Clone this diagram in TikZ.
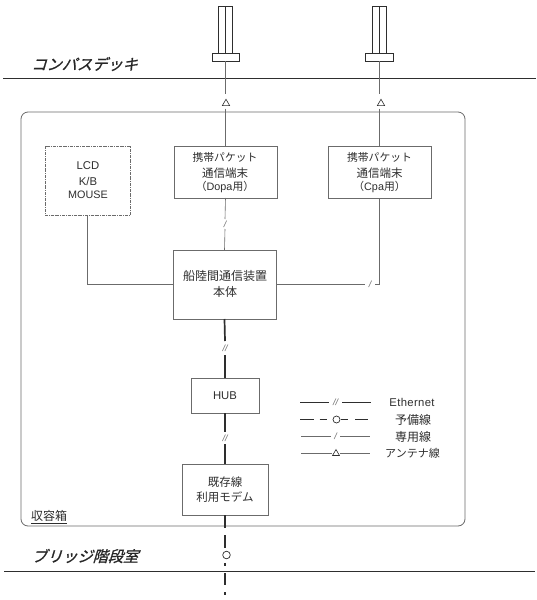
\documentclass[tikz,border=0pt]{standalone}
\usepackage{fontspec}
\usetikzlibrary{shapes.geometric}
\setmainfont{Liberation Sans}
\newfontfamily\jp{Noto Sans CJK JP}
\newfontfamily\jpslant[FakeSlant=0.3,FakeBold=1.0]{Noto Sans CJK JP}
\definecolor{ink}{gray}{0.18}
\definecolor{edge}{gray}{0.42}
\newcommand{\fs}[1]{\fontsize{#1}{#1}\selectfont}
\tikzset{
  box/.style={draw=edge,line width=0.7pt,fill=white,inner sep=0pt,outer sep=0pt,text=ink,align=center,font=\fs{11.3}},
  dashbox/.style={box,densely dashdotted},
  casebox/.style={draw=edge,line width=0.8pt,rounded corners=7pt,inner sep=0pt,outer sep=0pt,minimum width=444pt,minimum height=414pt},
  antbox/.style={draw=ink,line width=0.7pt,fill=white,inner sep=0pt,outer sep=0pt},
  floor/.style={draw=ink,line width=1pt},
  special/.style={draw=edge,line width=0.6pt},
  lan/.style={draw=ink,line width=1.7pt},
  spare/.style={draw=ink,line width=1.3pt},
  tick/.style={inner sep=0pt,outer sep=0pt,text=edge,font=\fs{9}\itshape},
  tri/.style={draw=ink,line width=0.6pt,fill=white,regular polygon,regular polygon sides=3,inner sep=0pt,minimum size=8.5pt,outer sep=0pt},
  ring/.style={draw=ink,line width=0.7pt,fill=white,circle,inner sep=0pt,minimum size=7.6pt,outer sep=0pt},
  deck/.style={text=black!85,inner sep=0pt,font=\fs{15.2}\jpslant},
  legend/.style={inner sep=0pt,text=ink,font=\fs{11}},
  label/.style={inner sep=0pt,text=ink},
}
\begin{document}
\begin{tikzpicture}[x=1pt,y=-1pt]
\useasboundingbox (0,0) rectangle (537,600);
\fill[white] (0,0) rectangle (537,600);

% floors
\coordinate (fa) at (3,78); \coordinate (fb) at (536,78);
\coordinate (fc) at (4,571); \coordinate (fd) at (535,571);
\draw[floor] (fa) -- (fb);
\draw[floor] (fc) -- (fd);
\node[deck] (deckA) at (84.5,64) {コンパスデッキ};
\node[deck] (deckB) at (85,556) {ブリッジ階段室};

% enclosure
\node[casebox] (case) at (243,319) {};
\node[label,font=\fs{12}\jp] (caselabel) at (49,517) {\underline{収容箱}};

% boxes
\node[dashbox,minimum width=85pt,minimum height=69pt] (lcd) at (87.5,180.5) {};
\node[label,font=\fs{11.3}] (lcdA) at (88,166) {LCD};
\node[label,font=\fs{11.3}] (lcdB) at (88,181) {K/B};
\node[label,font=\fs{10.8}] (lcdC) at (88,195) {MOUSE};

\node[box,minimum width=103pt,minimum height=52pt] (dopa) at (225.5,172) {};
\node[label,font=\fs{10.8}\jp] (dopaA) at (225,157) {携帯パケット};
\node[label,font=\fs{11.5}\jp] (dopaB) at (225,173) {通信端末};
\node[label,font=\fs{10.8}] (dopaC) at (225,187) {{\jp （}Dopa{\jp 用）}};

\node[box,minimum width=103pt,minimum height=52pt] (cpa) at (379.5,172) {};
\node[label,font=\fs{10.8}\jp] (cpaA) at (379.5,157) {携帯パケット};
\node[label,font=\fs{11.5}\jp] (cpaB) at (379.5,173) {通信端末};
\node[label,font=\fs{10.8}] (cpaC) at (379.5,187) {{\jp （}Cpa{\jp 用）}};

\node[box,minimum width=103pt,minimum height=69pt] (main) at (224.5,284.5) {};
\node[label,font=\fs{12}\jp] (mainA) at (225,276) {船陸間通信装置};
\node[label,font=\fs{12}\jp] (mainB) at (225,292) {本体};

\node[box,minimum width=68pt,minimum height=35pt] (hub) at (225,395.5) {HUB};

\node[box,minimum width=86pt,minimum height=51pt] (modem) at (225,489.5) {};
\node[label,font=\fs{11.5}\jp] (modemA) at (225,482) {既存線};
\node[label,font=\fs{11.5}\jp] (modemB) at (225,497) {利用モデム};

% antennas
\node[antbox,minimum width=14pt,minimum height=48pt] (antA) at (225.5,30) {};
\node[antbox,minimum width=27pt,minimum height=7.5pt] (baseA) at (225.5,57.5) {};
\draw[draw=ink,line width=0.7pt] (antA.north) -- (antA.south);
\node[antbox,minimum width=14pt,minimum height=48pt] (antB) at (379,30) {};
\node[antbox,minimum width=28pt,minimum height=7.5pt] (baseB) at (379,57.5) {};
\draw[draw=ink,line width=0.7pt] (antB.north) -- (antB.south);

% antenna lines
\node[tri] (triA) at (226,103.5) {};
\node[tri] (triB) at (381,103.5) {};
\draw[special,shorten >=5pt] (baseA.south) -- (triA.north -| baseA.south);
\draw[special,shorten <=3pt] (triA.south -| dopa.north) -- (dopa.north);
\draw[special,shorten >=5pt] (baseB.south) -- (triB.north -| baseB.south);
\draw[special,shorten <=3pt] (triB.south -| cpa.north) -- (cpa.north);

% dedicated lines
\node[tick,minimum height=10pt] (tickA) at (225,224) {/};
\draw[special] (dopa.south) -- (tickA.north);
\draw[special] (tickA.south) -- (main.north);
\node[tick,minimum width=10pt] (tickB) at (370,284) {/};
\draw[special] (main.east |- tickB) -- (tickB.west);
\draw[special] (tickB.east) -- ++(4.5,0) coordinate (bend) -- (bend |- cpa.south);
\draw[special] (lcd.south) |- (main.west);

% ethernet
\node[tick,minimum height=14pt] (tickC) at (225,348) {//};
\node[tick,minimum height=12pt] (tickD) at (225,438) {//};
\draw[lan] (main.south) -- (tickC.north);
\draw[lan] (tickC.south) -- (hub.north);
\draw[lan] (hub.south) -- (tickD.north);
\draw[lan] (tickD.south) -- (modem.north);

% spare line
\node[ring] (ringA) at (226.5,555) {};
\coordinate (tail) at (225,595);
\draw[spare,dash pattern=on 12.5pt off 7.5pt on 13pt off 8pt] (modem.south) -- (ringA.north -| modem.south);
\draw[spare,dash pattern=on 0pt off 4pt on 3.5pt off 7pt on 12pt off 7pt on 3.5pt] (ringA.south -| tail) -- (tail);

% legend
\coordinate (la) at (300,402.5); \coordinate (lb) at (371,402.5);
\node[tick,minimum width=13pt] (lt1) at (335.5,402.5) {//};
\draw[draw=ink,line width=1.2pt] (la) -- (lt1.west);
\draw[draw=ink,line width=1.2pt] (lt1.east) -- (lb);
\node[legend,font=\fs{11.3}\addfontfeatures{LetterSpace=3}] (ll1) at (412,402.5) {Ethernet};

\coordinate (ra) at (300,419.5); \coordinate (rb) at (371,419.5);
\node[ring,minimum size=7pt] (lr) at (336.5,419.5) {};
\draw[draw=ink,line width=1pt,dash pattern=on 13.5pt off 6pt on 7pt off 10pt] (ra) -- (lr.west);
\draw[draw=ink,line width=1pt,shorten <=1pt,dash pattern=on 7pt off 7pt on 13pt] (lr.east) -- (rb);
\node[legend,font=\fs{12}\jp] (ll2) at (413,419.5) {予備線};

\coordinate (sa) at (301,436.5); \coordinate (sb) at (370,436.5);
\node[tick,minimum width=9pt] (lt3) at (335.5,436.5) {/};
\draw[special] (sa) -- (lt3.west);
\draw[special] (lt3.east) -- (sb);
\node[legend,font=\fs{12}\jp] (ll3) at (413,436.5) {専用線};

\coordinate (ta) at (301,453.5); \coordinate (tb) at (370,453.5);
\node[tri,minimum size=8pt] (lt4) at (336,453.5) {};
\draw[special,shorten >=2pt] (ta) -- (lt4.west |- ta);
\draw[special,shorten <=2pt] (lt4.east |- tb) -- (tb);
\node[legend,font=\fs{11}\jp] (ll4) at (412.5,453.5) {アンテナ線};
\end{tikzpicture}
\end{document}
